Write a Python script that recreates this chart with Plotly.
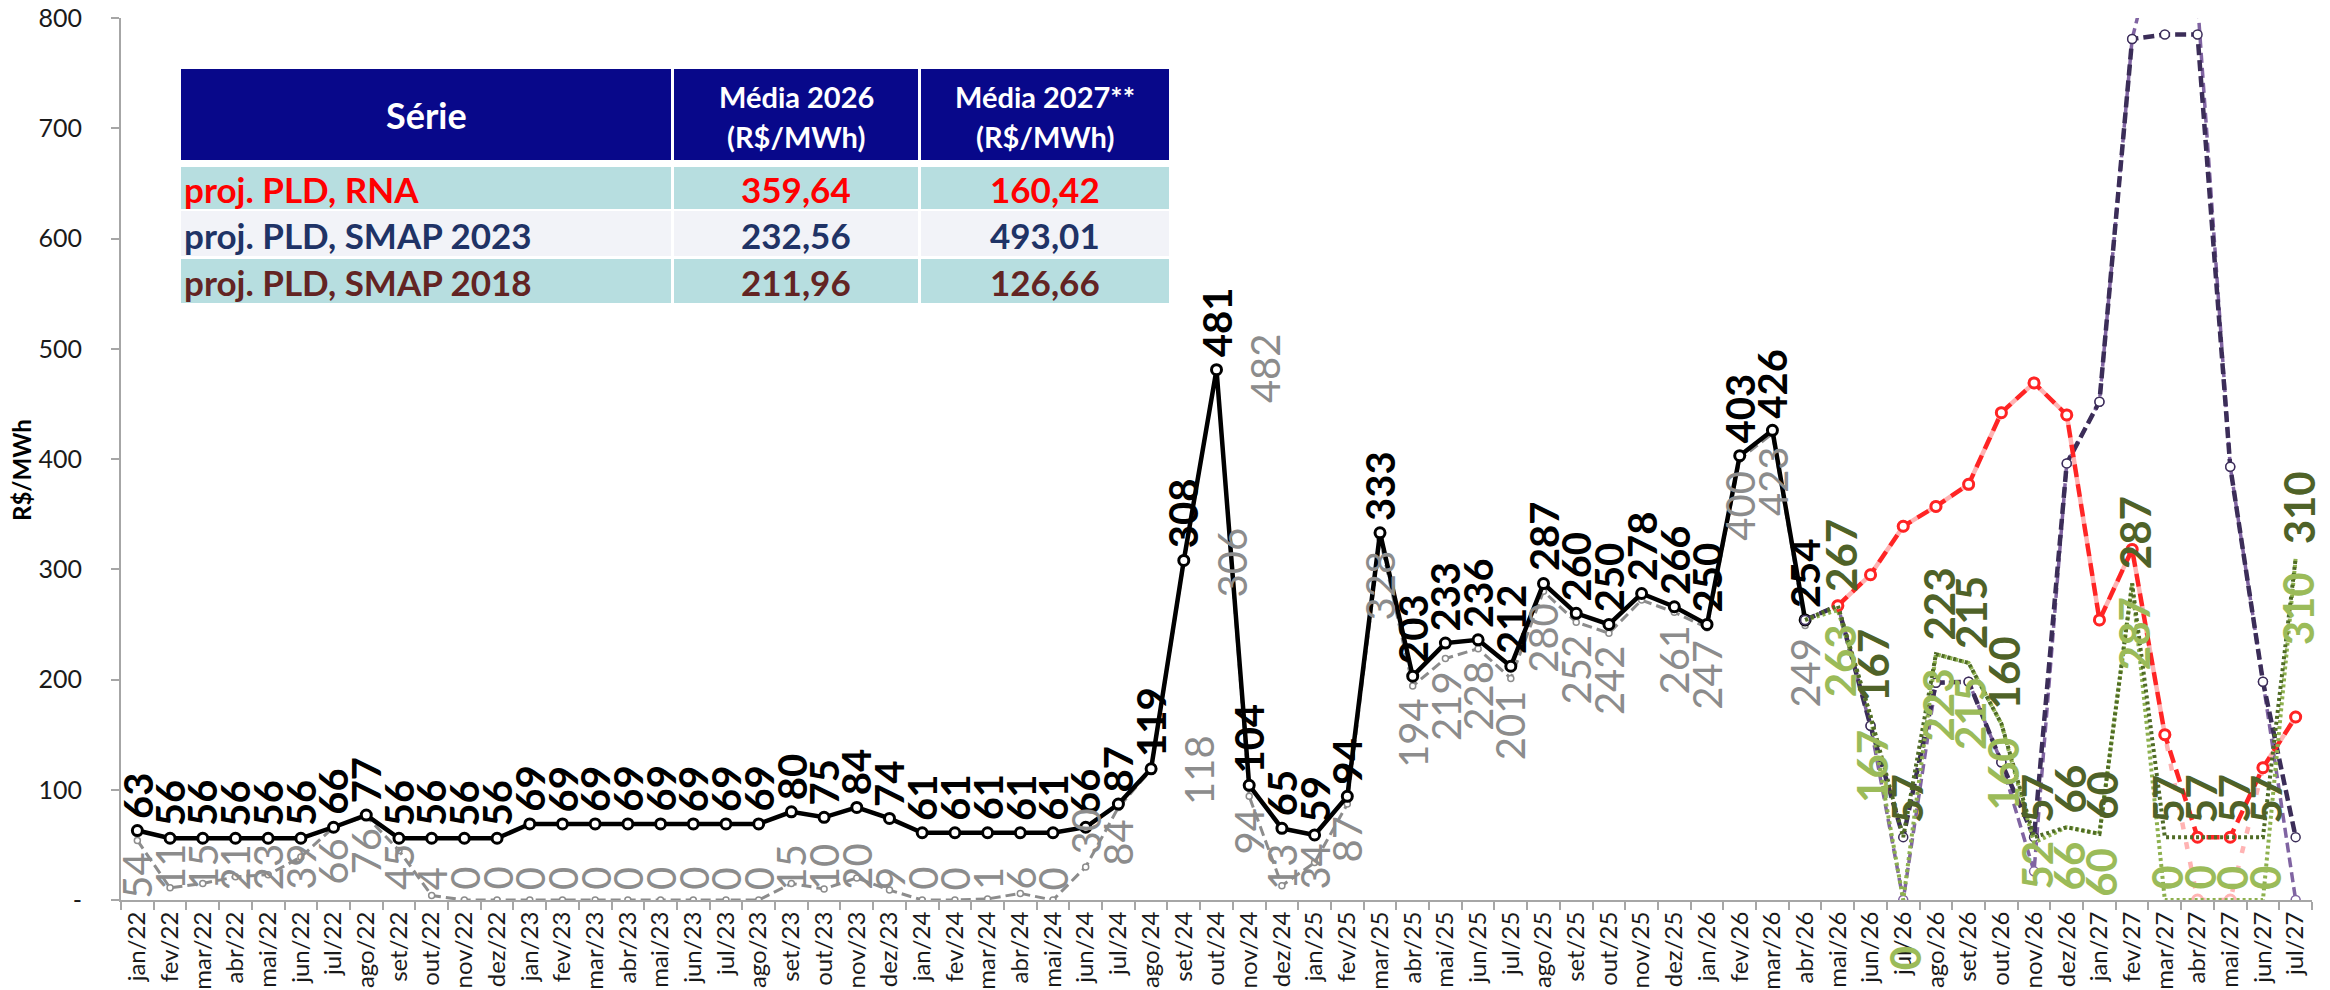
import plotly.graph_objects as go

# ---------------------------------------------------------------- dados
MES_ABREV = ["jan", "fev", "mar", "abr", "mai", "jun",
             "jul", "ago", "set", "out", "nov", "dez"]
MESES = [f"{m}/{a}" for a in ("22", "23", "24", "25", "26", "27") for m in MES_ABREV][:67]

# Histórico: jan/22 a abr/26
MESES_HIST = MESES[:52]
PLD_MEDIO = [63, 56, 56, 56, 56, 56, 66, 77, 56, 56, 56, 56,
             69, 69, 69, 69, 69, 69, 69, 69, 80, 75, 84, 74,
             61, 61, 61, 61, 61, 66, 87, 119, 308, 481, 104, 65,
             59, 94, 333, 203, 233, 236, 212, 287, 260, 250, 278, 266,
             250, 403, 426, 254]
PLD_SEM_PISO = [54, 11, 15, 21, 23, 39, 66, 76, 45, 4, 0, 0,
                0, 0, 0, 0, 0, 0, 0, 0, 15, 10, 20, 9,
                0, 0, 1, 6, 0, 30, 84, 118, 306, 482, 94, 13,
                34, 87, 328, 194, 219, 228, 201, 280, 252, 242, 272, 261,
                247, 400, 423, 249]

# Projeções: abr/26 a jul/27
MESES_PROJ = MESES[51:]
PROJ_RNA = [None, 267, 295, 339, 357, 377, 442, 469, 440, 254, 318, 150, 57, 57, 120, 166]
PROJ_RNA_SEM_PISO = [None, 267, 295, 339, 357, 377, 442, 469, 440, 254, 318, 150, 0, 0, 120, 166]
PROJ_SMAP23 = [254, 267, 158, 57, 197, 198, 125, 57, 396, 452, 781, 785, 785, 393, 198, 57]
PROJ_SMAP23_SEM_PISO = [254, 267, 158, 0, 197, 198, 125, 26, 396, 452, 781, 900, 815, 393, 198, 0]
PROJ_SMAP18 = [254, 267, 167, 57, 223, 215, 160, 57, 66, 60, 287, 57, 57, 57, 57, 310]
PROJ_SMAP18_SEM_PISO = [254, 263, 167, 0, 223, 215, 160, 52, 66, 60, 287, 0, 0, 0, 0, 310]

# Quadro de médias
TABELA_SERIES = ["proj. PLD, RNA", "proj. PLD, SMAP 2023", "proj. PLD, SMAP 2018"]
TABELA_MEDIA_2026 = [359.64, 232.56, 211.96]
TABELA_MEDIA_2027 = [160.42, 493.01, 126.66]
TABELA_CABECALHO = ["Série", ("Média 2026", "(R$/MWh)"), ("Média 2027**", "(R$/MWh)")]

Y_TICKS = [0, 100, 200, 300, 400, 500, 600, 700, 800]
Y_TICKTEXT = ["-", "100", "200", "300", "400", "500", "600", "700", "800"]

# ---------------------------------------------------------------- geometria
W, H = 2330, 990
ML, MR, MT, MB = 121, 18, 18, 90
PW, PH = W - ML - MR, H - MT - MB
YMAX = 800
PPU = PH / YMAX
FONT = "Lato"
DIGIT_EM = 0.46   # approximate advance of a digit, in em


def px_x(px):
    return (px - ML) / PW


def px_y(py):
    return (H - MB - py) / PH


# ---------------------------------------------------------------- estilos
C_PRETO = "#000000"
C_CINZA = "#8C8C8C"
C_VERMELHO = "#FF2424"
C_ROSA = "#FFB3B3"
C_AZUL = "#3B2D58"
C_LILAS = "#8064A2"
C_VERDE = "#4F6B25"
C_VERDE_TXT = "#4F6228"
C_VERDE_CLARO = "#8DB04E"
C_VERDE_CLARO_TXT = "#9BBB59"

LBL_FS = 40
LBL_FS_VERDE = 42

fig = go.Figure()

fig.add_trace(go.Scatter(
    x=MESES_HIST, y=PLD_SEM_PISO, mode="lines+markers",
    line=dict(color=C_CINZA, width=3, dash="10px,5px"),
    marker=dict(symbol="circle", size=6, color="white", line=dict(color=C_CINZA, width=1.5)),
    hoverinfo="skip"))
fig.add_trace(go.Scatter(
    x=MESES_HIST, y=PLD_MEDIO, mode="lines+markers",
    line=dict(color=C_PRETO, width=4.5),
    marker=dict(symbol="circle", size=10, color="white", line=dict(color=C_PRETO, width=3)),
    hoverinfo="skip"))
fig.add_trace(go.Scatter(
    x=MESES_PROJ, y=PROJ_SMAP23_SEM_PISO, mode="lines+markers",
    line=dict(color=C_LILAS, width=3.5, dash="10px,5px"),
    marker=dict(symbol="circle", size=9, color="white", line=dict(color=C_LILAS, width=1.5)),
    hoverinfo="skip"))
fig.add_trace(go.Scatter(
    x=MESES_PROJ, y=PROJ_SMAP23, mode="lines+markers",
    line=dict(color=C_AZUL, width=4.5, dash="11px,5px"),
    marker=dict(symbol="circle", size=9, color="white", line=dict(color=C_AZUL, width=1.5)),
    hoverinfo="skip"))
fig.add_trace(go.Scatter(
    x=MESES_PROJ, y=PROJ_RNA_SEM_PISO, mode="lines+markers",
    line=dict(color=C_ROSA, width=4.5, dash="0px,13px,7px,0px"),
    marker=dict(symbol="circle", size=10, color="white", line=dict(color=C_ROSA, width=3)),
    hoverinfo="skip"))
fig.add_trace(go.Scatter(
    x=MESES_PROJ, y=PROJ_RNA, mode="lines+markers",
    line=dict(color=C_VERMELHO, width=4.5, dash="13px,7px"),
    marker=dict(symbol="circle", size=10, color="white", line=dict(color=C_VERMELHO, width=3)),
    hoverinfo="skip"))
fig.add_trace(go.Scatter(
    x=MESES_PROJ, y=PROJ_SMAP18_SEM_PISO, mode="lines",
    line=dict(color=C_VERDE_CLARO, width=4, dash="3px,3px"),
    hoverinfo="skip"))
fig.add_trace(go.Scatter(
    x=MESES_PROJ, y=PROJ_SMAP18, mode="lines",
    line=dict(color=C_VERDE, width=4, dash="3px,3px"),
    hoverinfo="skip"))

# ---------------------------------------------------------------- rótulos
annotations = []


def text_len(txt, fs):
    return len(txt) * DIGIT_EM * fs + 4


def lbl(x, v, color, bold, where, gap=13, clamp=8, xshift=0, fs=LBL_FS):
    txt = str(v)
    shown = f"<b>{txt}</b>" if bold else txt
    a = dict(x=x, y=v, xref="x", yref="y", text=shown, textangle=-90, showarrow=False,
             font=dict(family=FONT, size=fs, color=color), xanchor="center", xshift=xshift)
    if where == "above":
        a.update(yanchor="bottom", yshift=gap)
    elif where == "right":
        a.update(yanchor="middle", xanchor="left", xshift=22)
    elif where == "under_axis":
        a.update(y=0, yanchor="top", yshift=-44)
    else:  # below, held inside the plot area
        bottom = v * PPU - gap - text_len(txt, fs)
        if bottom < clamp:
            a.update(y=0, yanchor="bottom", yshift=clamp)
        else:
            a.update(yanchor="top", yshift=-gap)
    annotations.append(a)


for x, v in zip(MESES_HIST, PLD_MEDIO):
    lbl(x, v, C_PRETO, True, "above", gap=10)

CINZA_POS = {29: "above", 31: "right", 32: "right", 33: "right"}
CINZA_OCULTO = {46}
for i, (x, v) in enumerate(zip(MESES_HIST, PLD_SEM_PISO)):
    if i in CINZA_OCULTO:
        continue
    lbl(x, v, C_CINZA, False, CINZA_POS.get(i, "below"), gap=10)

for x, v in zip(MESES_PROJ[1:], PROJ_SMAP18[1:]):
    lbl(x, v, C_VERDE_TXT, True, "above", gap=12, xshift=3, fs=LBL_FS_VERDE)

VERDE_CLARO_POS = {3: "under_axis"}
for i, (x, v) in enumerate(zip(MESES_PROJ, PROJ_SMAP18_SEM_PISO)):
    if i == 0:
        continue
    lbl(x, v, C_VERDE_CLARO_TXT, True, VERDE_CLARO_POS.get(i, "below"),
        gap=12, xshift=2, fs=LBL_FS_VERDE)

# eixo y: título
annotations.append(dict(
    x=px_x(21), y=px_y(470), xref="paper", yref="paper", text="<b>R$/MWh</b>",
    textangle=-90, showarrow=False, font=dict(family=FONT, size=24, color="#000000"),
    xanchor="center", yanchor="middle"))

# ---------------------------------------------------------------- quadro de médias
shapes = []
COLS = [(181, 671), (674, 918), (921, 1169)]
HEAD = (69, 160)
ROWS = [(167, 209), (211, 256), (259, 303)]
ROW_FILL = ["#B7DEE0", "#F2F3F8", "#B7DEE0"]
ROW_TXT = ["#FF0000", "#1F3366", "#632423"]
HEAD_FILL = "#08088A"


def rect(x0, x1, y0, y1, fill):
    shapes.append(dict(type="rect", xref="paper", yref="paper",
                       x0=px_x(x0), x1=px_x(x1), y0=px_y(y1), y1=px_y(y0),
                       fillcolor=fill, line=dict(width=0), layer="above"))


def txt(px, py, s, size, color, xanchor="center"):
    annotations.append(dict(x=px_x(px), y=px_y(py), xref="paper", yref="paper",
                            text=f"<b>{s}</b>", showarrow=False,
                            font=dict(family=FONT, size=size, color=color),
                            xanchor=xanchor, yanchor="middle"))


for (c0, c1), head in zip(COLS, TABELA_CABECALHO):
    rect(c0, c1, HEAD[0], HEAD[1], HEAD_FILL)
    cx = (c0 + c1) / 2
    if isinstance(head, tuple):
        txt(cx, 97, head[0], 29, "white")
        txt(cx, 136, head[1], 29, "white")
    else:
        txt(cx, 115, head, 36, "white")

for r, (y0, y1) in enumerate(ROWS):
    for (c0, c1) in COLS:
        rect(c0, c1, y0, y1, ROW_FILL[r])
    cy = (y0 + y1) / 2 + 1
    txt(182, cy, TABELA_SERIES[r], 35, ROW_TXT[r], xanchor="left")
    for (c0, c1), val in zip(COLS[1:], (TABELA_MEDIA_2026[r], TABELA_MEDIA_2027[r])):
        txt((c0 + c1) / 2, cy, f"{val:.2f}".replace(".", ","), 35, ROW_TXT[r])

# ---------------------------------------------------------------- layout
AX_GRAY = "#A6A6A6"
fig.update_layout(
    width=W, height=H,
    margin=dict(l=ML, r=MR, t=MT, b=MB, pad=0, autoexpand=False),
    paper_bgcolor="white", plot_bgcolor="white",
    showlegend=False,
    font=dict(family=FONT, color="#1a1a1a"),
    annotations=annotations,
    shapes=shapes,
    xaxis=dict(
        type="category", categoryorder="array", categoryarray=MESES,
        tickmode="array", tickvals=MESES, ticktext=MESES,
        range=[-0.5, len(MESES) - 0.5], automargin=False,
        tickangle=-90, tickfont=dict(family=FONT, size=24, color="#1a1a1a"),
        tickson="boundaries", ticks="outside", ticklen=8, tickwidth=1.5, tickcolor=AX_GRAY,
        showline=True, linecolor=AX_GRAY, linewidth=2,
        showgrid=False, zeroline=False, fixedrange=True),
    yaxis=dict(
        range=[0, YMAX], tickmode="array", tickvals=Y_TICKS, ticktext=Y_TICKTEXT,
        tickfont=dict(family=FONT, size=25, color="#1a1a1a"), automargin=False,
        ticks="outside", ticklen=8, tickwidth=1.5, tickcolor=AX_GRAY,
        ticklabelstandoff=24,
        showline=True, linecolor=AX_GRAY, linewidth=2,
        showgrid=False, zeroline=False, fixedrange=True),
)

fig.write_html("out.html")
